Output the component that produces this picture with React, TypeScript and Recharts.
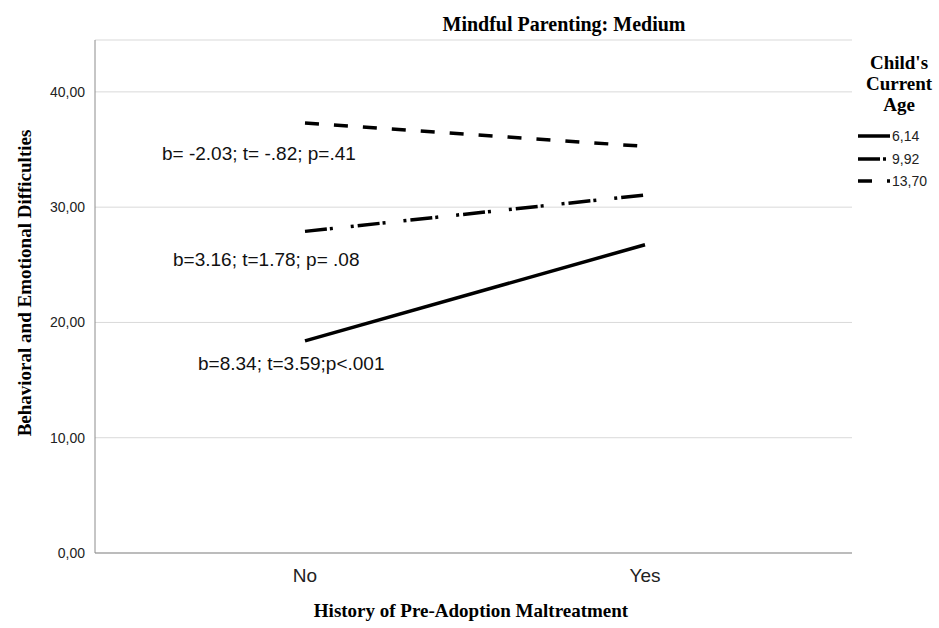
import React from 'react';
import { LineChart, Line, XAxis, YAxis, CartesianGrid } from 'recharts';

document.body.style.margin = '0';

// ── Data ──────────────────────────────────────────────────────────────────────
const groups = ['No', 'Yes'];
const age614 = [18.4, 26.74];
const age992 = [27.9, 31.06];
const age1370 = [37.3, 35.27];
const yTicks = [0, 10, 20, 30, 40];
const slopeLabels = [
  'b= -2.03; t= -.82; p=.41',
  'b=3.16; t=1.78; p= .08',
  'b=8.34; t=3.59;p<.001',
];

const series = [
  { key: 'a614', name: '6,14', dash: undefined as string | undefined },
  { key: 'a992', name: '9,92', dash: '22 3 3 18 3 4' },
  { key: 'a1370', name: '13,70', dash: '14 15' },
];

const data = groups.map((g, i) => ({
  group: g,
  a614: age614[i],
  a992: age992[i],
  a1370: age1370[i],
}));

const SANS = '"Liberation Sans", Arial, sans-serif';
const SERIF = '"Liberation Serif", "Times New Roman", serif';

function XTick({ x, y, payload }: any) {
  return (
    <text x={x} y={y} dy={29} textAnchor="middle" fontSize={19} fontFamily={SANS} fill="#222">
      {payload.value}
    </text>
  );
}

function YTick({ x, y, payload }: any) {
  return (
    <text x={x} y={y} dy={5} textAnchor="end" fontSize={14} fontFamily={SANS} fill="#222">
      {Number(payload.value).toFixed(2).replace('.', ',')}
    </text>
  );
}

// legend drawn beside the plot (a recharts <Legend> would shrink the plot)
function AgeLegend() {
  return (
    <div style={{ position: 'absolute', left: 852, top: 52, width: 87, fontFamily: SANS }}>
      <div style={{ fontFamily: SERIF, fontWeight: 'bold', fontSize: 19, lineHeight: '21px',
        textAlign: 'center', paddingLeft: 7, color: '#000' }}>
        Child's<br />Current<br />Age
      </div>
      <div style={{ marginTop: 10 }}>
        {series.map(s => (
          <div key={s.key} style={{ display: 'flex', alignItems: 'center', height: 22.5, paddingLeft: 6 }}>
            <svg width={32} height={8}>
              <line x1={0} y1={4} x2={32} y2={4} stroke="#000" strokeWidth={3.5}
                strokeDasharray={s.dash} />
            </svg>
            <span style={{ fontSize: 14, marginLeft: 2, color: '#222' }}>{s.name}</span>
          </div>
        ))}
      </div>
    </div>
  );
}

export default function App() {
  return (
    <div style={{ position: 'relative', width: 939, height: 628, background: '#fff' }}>
      <LineChart width={939} height={628} data={data}
        margin={{ top: 40, right: 87, bottom: 35, left: 0 }}>
        <CartesianGrid vertical={false} stroke="#d9d9d9" />
        <XAxis dataKey="group" type="category" height={40} padding={{ left: 210, right: 207 }}
          tickSize={0} tickMargin={0} tick={<XTick />} axisLine={{ stroke: '#8c8c8c' }} tickLine={false} />
        <YAxis width={95} domain={[0, 44.5]} ticks={yTicks} tickSize={0} tickMargin={10}
          tick={<YTick />} axisLine={{ stroke: '#8c8c8c' }} tickLine={false} />
        {series.map(s => (
          <Line key={s.key} type="linear" dataKey={s.key} name={s.name} stroke="#000"
            strokeWidth={3.5} strokeDasharray={s.dash} dot={false} activeDot={false}
            isAnimationActive={false} />
        ))}
      </LineChart>

      <AgeLegend />

      <svg width={939} height={628} style={{ position: 'absolute', left: 0, top: 0, pointerEvents: 'none' }}>
        <text x={564} y={31} textAnchor="middle" fontFamily={SERIF} fontWeight="bold" fontSize={20}>
          Mindful Parenting: Medium
        </text>
        <text x={31} y={283} transform="rotate(-90 31 283)" textAnchor="middle"
          fontFamily={SERIF} fontWeight="bold" fontSize={19}>
          Behavioral and Emotional Difficulties
        </text>
        <text x={471} y={617} textAnchor="middle" fontFamily={SERIF} fontWeight="bold" fontSize={19}>
          History of Pre-Adoption Maltreatment
        </text>
        <text x={162} y={160} fontFamily={SANS} fontSize={19} fill="#111">{slopeLabels[0]}</text>
        <text x={173} y={266} fontFamily={SANS} fontSize={19} fill="#111">{slopeLabels[1]}</text>
        <text x={198} y={370} fontFamily={SANS} fontSize={19} fill="#111">{slopeLabels[2]}</text>
      </svg>
    </div>
  );
}
